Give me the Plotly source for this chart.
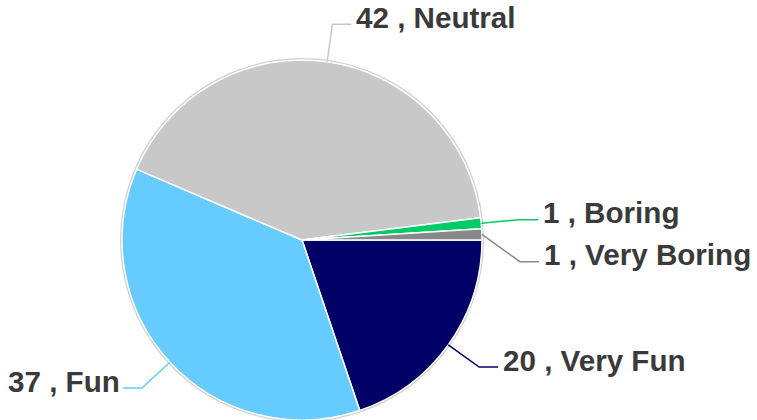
import math
import plotly.graph_objects as go

# ---- data ----
categories = ["Very Fun", "Fun", "Neutral", "Boring", "Very Boring"]
values = [20, 37, 42, 1, 1]
colors = ["#000066", "#66CCFF", "#C8C8C8", "#00CC66", "#888888"]

# ---- layout constants (pixels) ----
W, H = 757, 420
CX, CY, R = 302, 240, 180
ROT = 90           # first slice starts at 3 o'clock, clockwise
ELBOW_R = 218
HSEG = 19
MIN_GAP = 42
FONT_SIZE = 29.6

def px(x):
    return x / W

def py(y):
    return 1 - y / H

fig = go.Figure(go.Pie(
    labels=categories, values=values, sort=False, direction="clockwise",
    rotation=ROT, marker=dict(colors=colors, line=dict(color="white", width=1.5)),
    textinfo="none", showlegend=False,
    domain=dict(x=[(CX - R) / W, (CX + R) / W], y=[(H - CY - R) / H, (H - CY + R) / H]),
))

# compute label geometry from the values
total = sum(values)
labels = []
acc = 0.0
for cat, v, c in zip(categories, values, colors):
    mid = ROT + (acc + v / 2) / total * 360
    acc += v
    a = math.radians(mid)
    rim = (CX + R * math.sin(a), CY - R * math.cos(a))
    elb = [CX + ELBOW_R * math.sin(a), CY - ELBOW_R * math.cos(a)]
    side = 1 if elb[0] >= CX else -1
    labels.append(dict(cat=cat, v=v, c=c, rim=rim, elb=elb, side=side))

# simple overlap avoidance on each side
for s in (1, -1):
    grp = sorted([l for l in labels if l["side"] == s], key=lambda l: l["elb"][1])
    for i in range(1, len(grp)):
        if grp[i]["elb"][1] - grp[i - 1]["elb"][1] < MIN_GAP:
            grp[i]["elb"][1] = grp[i - 1]["elb"][1] + MIN_GAP

shapes = [dict(type="circle", xref="paper", yref="paper", layer="below",
               x0=px(CX - R - 1), x1=px(CX + R + 1), y0=py(CY + R + 1), y1=py(CY - R - 1),
               line=dict(color="#D0D0D0", width=2))]
annotations = []
for l in labels:
    ex, ey = l["elb"]
    endx = ex + l["side"] * HSEG
    path = "M {} {} L {} {} L {} {}".format(px(l["rim"][0]), py(l["rim"][1]),
                                            px(ex), py(ey), px(endx), py(ey))
    shapes.append(dict(type="path", xref="paper", yref="paper", path=path,
                       line=dict(color=l["c"], width=1.5)))
    gap = 3 if l["side"] > 0 else 1
    annotations.append(dict(
        xref="paper", yref="paper", x=px(endx + l["side"] * gap), y=py(ey - 7),
        xanchor="left" if l["side"] > 0 else "right", yanchor="middle",
        text="{} , {}".format(l["v"], l["cat"]), showarrow=False,
        font=dict(family="Liberation Sans, Arial", size=FONT_SIZE, color="#3A3A3A", weight="bold"),
    ))

fig.update_layout(
    width=W, height=H, margin=dict(l=0, r=0, t=0, b=0),
    paper_bgcolor="white", plot_bgcolor="white",
    shapes=shapes, annotations=annotations,
)
fig.write_html("out.html", config={"displayModeBar": False},
               post_script="document.body.style.margin='0';")
